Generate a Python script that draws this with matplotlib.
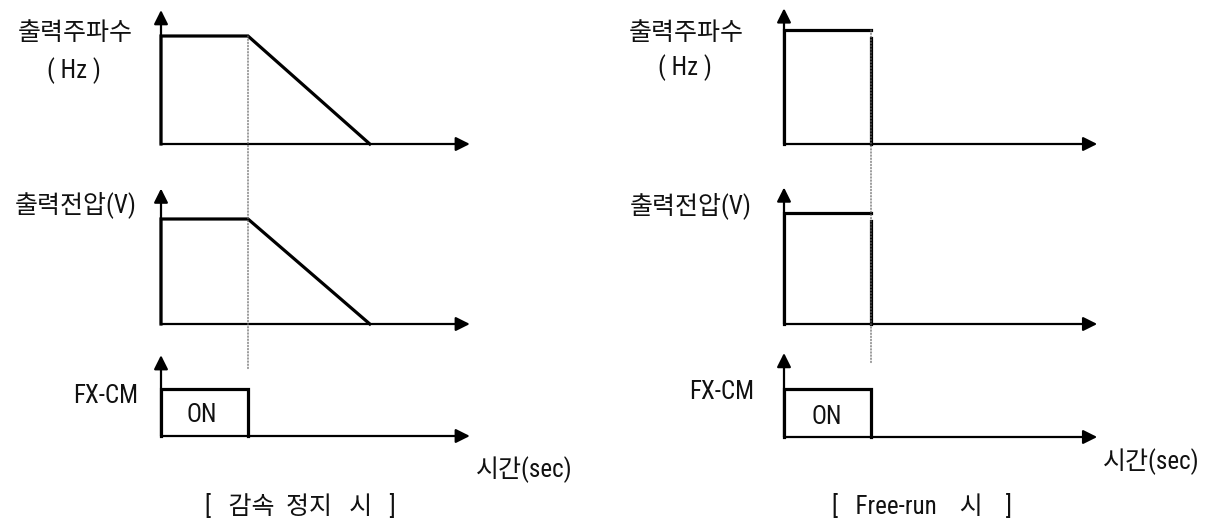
"""inverter stop timing chart"""

import matplotlib
matplotlib.use("Agg")
import matplotlib.pyplot as plt
from matplotlib import font_manager
from matplotlib.patches import ConnectionPatch

W, H = 1222, 522

# 폰트 (좁은 라틴 + 한글)
fonts = font_manager.fontManager.ttflist
names = {f.name for f in fonts}
STRETCH = "normal"
if "Liberation Sans Narrow" in names:
    LATIN = "Liberation Sans Narrow"
elif "Roboto Condensed" in names:
    LATIN = "Roboto Condensed"
elif any(f.name == "DejaVu Sans" and f.stretch == "condensed" for f in fonts):
    LATIN = "DejaVu Sans"
    STRETCH = "condensed"
else:
    LATIN = "Liberation Sans"
FONT = [LATIN, "Noto Sans CJK KR", "DejaVu Sans"]

# 데이터 (시간: 정지 지령 = 1)
stop_t = 1.0
decel_t = [0, 0, stop_t, 2.4]
decel_freq = [0, 1, 1, 0]
decel_volt = [0, 1, 1, 0]

free_t = [0, 0, stop_t]
free_level = [0, 1, 1]
free_drop_t = [stop_t, stop_t]
free_drop = [0.93, 0]

fx_t = [0, 0, stop_t, stop_t]
fx_on = [0, 1, 1, 0]

ARROW = dict(arrowstyle="-|>,head_length=0.7,head_width=0.35", color="black",
             lw=1.6, shrinkA=0, shrinkB=0, mutation_scale=12)
LW = 2.3


def make_panel(fig, x0, y0, sx, sy, xmax, ymax):
    # 픽셀 원점/스케일로 축 배치
    pad = 0.1
    left = (x0 - pad * sx) / W
    bottom = (H - y0 - pad * sy) / H
    width = (xmax + 2 * pad) * sx / W
    height = (ymax + 2 * pad) * sy / H
    ax = fig.add_axes([left, bottom, width, height])
    ax.set_xlim(-pad, xmax + pad)
    ax.set_ylim(-pad, ymax + pad)
    ax.axis("off")
    ax.annotate("", xy=(xmax, 0), xytext=(0, 0), arrowprops=ARROW)
    ax.annotate("", xy=(0, ymax), xytext=(0, 0), arrowprops=ARROW)
    return ax


def label(fig, x, y, s, size=18):
    fig.text(x / W, 1 - y / H, s, ha="center", va="center", fontsize=size,
             family=FONT, fontstretch=STRETCH, color="#111111")


def dotted(fig, ax_top, ax_bot, y_bot):
    con = ConnectionPatch(xyA=(stop_t, 1), coordsA=ax_top.transData,
                          xyB=(stop_t, y_bot), coordsB=ax_bot.transData,
                          linestyle=(0, (1, 1.5)), color="#666666", lw=0.9)
    fig.add_artist(con)


def main():
    fig = plt.figure(figsize=(W / 100, H / 100), dpi=100, facecolor="white")

    # 감속 정지
    a1 = make_panel(fig, 161, 144, 87, 108, 3.55, 1.24)
    a2 = make_panel(fig, 161, 324, 87, 105, 3.55, 1.29)
    a3 = make_panel(fig, 161, 436, 87, 47, 3.55, 1.72)
    a1.plot(decel_t, decel_freq, color="black", lw=LW, solid_joinstyle="miter")
    a2.plot(decel_t, decel_volt, color="black", lw=LW, solid_joinstyle="miter")
    a3.plot(fx_t, fx_on, color="black", lw=LW, solid_joinstyle="miter")
    dotted(fig, a1, a3, 1.4)

    # Free-run
    b1 = make_panel(fig, 784, 144, 87, 114, 3.6, 1.19)
    b2 = make_panel(fig, 784, 324, 87, 111, 3.6, 1.23)
    b3 = make_panel(fig, 784, 437, 87, 48, 3.6, 1.75)
    for ax in (b1, b2):
        ax.plot(free_t, free_level, color="black", lw=LW, solid_joinstyle="miter")
        ax.plot(free_drop_t, free_drop, color="black", lw=LW)
    b3.plot(fx_t, fx_on, color="black", lw=LW, solid_joinstyle="miter")
    dotted(fig, b1, b3, 1.54)

    # 텍스트
    label(fig, 75, 33, "출력주파수")
    label(fig, 74, 71, "( Hz )")
    label(fig, 76, 205, "출력전압(V)")
    label(fig, 106, 396, "FX-CM")
    label(fig, 202, 415, "ON", 18)
    label(fig, 524, 470, "시간(sec)")
    label(fig, 300, 507, "[   감속  정지   시   ]")

    label(fig, 686, 33, "출력주파수")
    label(fig, 685, 68, "( Hz )")
    label(fig, 691, 206, "출력전압(V)")
    label(fig, 722, 392, "FX-CM")
    label(fig, 827, 417, "ON", 18)
    label(fig, 1151, 462, "시간(sec)")
    label(fig, 922, 507, "[   Free-run    시    ]")

    fig.savefig("out.png", dpi=100, facecolor="white")


if __name__ == "__main__":
    main()
